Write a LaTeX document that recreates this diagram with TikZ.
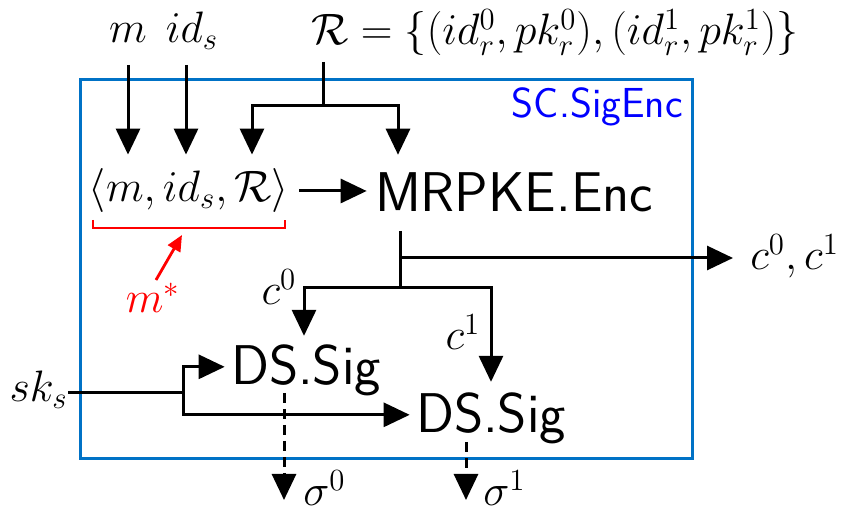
\documentclass[tikz,border=0pt]{standalone}
\usepackage{fix-cm}
\usetikzlibrary{arrows.meta}
\definecolor{boxblue}{RGB}{0,114,198}
\begin{document}
\begin{tikzpicture}[x=0.5pt,y=-0.5pt,
  mathtxt/.style={font=\fontsize{22}{26}\selectfont, inner sep=0pt},
  sanstxt/.style={font=\sffamily\fontsize{28}{32}\selectfont},
  ln/.style={line width=1.5pt},
  arr/.style={ln, -{Triangle[length=13pt,width=12pt]}},
  dsh/.style={arr, dash pattern=on 5pt off 3pt},
  redarr/.style={red, line width=1.4pt, -{Triangle[length=8pt,width=7pt]}},
]
\useasboundingbox (0,0) rectangle (843,512);
\draw[boxblue, line width=1.5pt] (80,80) rectangle (692,459);
\node[blue, font=\sffamily\fontsize{21}{25}\selectfont, anchor=base east, inner sep=0pt] (title) at (683,118) {SC.SigEnc};

\node[mathtxt, anchor=base] (m) at (128,43) {$m$};
\node[mathtxt, anchor=base] (ids) at (192,43) {$id_s$};
\node[mathtxt, anchor=base] (R) at (555,45) {$\mathcal{R}=\{(id_r^0,pk_r^0),(id_r^1,pk_r^1)\}$};
\node[mathtxt, anchor=base, inner xsep=5pt, inner ysep=7pt] (tup) at (189,202) {$\langle m, id_s, \mathcal{R}\rangle$};
\node[sanstxt, anchor=base, inner xsep=4pt, inner ysep=9pt] (enc) at (514,212) {MRPKE.Enc};
\node[sanstxt, anchor=base, inner xsep=3pt, inner ysep=4.5pt] (ds1) at (306,385) {DS.Sig};
\node[sanstxt, anchor=base, inner xsep=3pt, inner ysep=5.5pt] (ds2) at (491,433) {DS.Sig};
\node[mathtxt, anchor=base west] (out) at (750,270) {$c^0, c^1$};
\node[mathtxt, anchor=base] (c0) at (279,305) {$c^0$};
\node[mathtxt, anchor=base] (c1) at (463,350) {$c^1$};
\node[mathtxt, anchor=base east] (sk) at (68,402) {$sk_s$};
\node[mathtxt, anchor=base west] (sig0) at (303,506) {$\sigma^0$};
\node[mathtxt, anchor=base west] (sig1) at (483,506) {$\sigma^1$};
\node[mathtxt, red, anchor=base] (mstar) at (153,313) {$m^*$};

% inputs
\draw[arr] ([yshift=-11pt]m.base) -- (m.base |- tup.north);
\draw[arr] ([shift={(-6,22)}]ids.base) -- ([xshift=-3pt]ids.base |- tup.north);
\coordinate (Rc) at ([shift={(-232,17)}]R.base);
\coordinate (Rj) at ([shift={(-232,61)}]R.base);
\draw[ln] (Rc) -- (Rj);
\draw[arr] (Rj) -| ([xshift=31.5pt]tup.north);
\draw[arr] (Rj) -| ([xshift=-58pt]enc.north);
\draw[arr] (tup.east) -- (tup.east -| enc.west);

% m* bracket
\draw[red, line width=1.4pt] ([shift={(-96,18)}]tup.base) |- ([shift={(0,26)}]tup.base) -| ([shift={(96,18)}]tup.base);
\draw[redarr] ([shift={(3,-33)}]mstar.base) -- ([shift={(-7,33)}]tup.base);

% encryption outputs
\coordinate (s1) at ([shift={(-114,46)}]enc.base);
\coordinate (s2) at ([shift={(-114,76)}]enc.base);
\draw[ln] (enc.south -| s1) -- (s2);
\draw[arr] (s1) -- ([xshift=-8.5pt]out.west |- s1);
\draw[arr] (s2) -| ([xshift=-1pt]ds1.north);
\draw[arr] (s2) -| (ds2.north);

% signing key
\coordinate (j) at ([shift={(115,-9)}]sk.base east);
\draw[ln] ([shift={(0,-9)}]sk.base east) -- (j);
\draw[arr] (j) |- ([yshift=2pt]ds1.west);
\draw[arr] (j) |- ([yshift=2pt]ds2.west);

% signatures
\draw[dsh] ([shift={(-22,8)}]ds1.base) -- ([shift={(-19,-6)}]sig0.base west);
\draw[dsh] ([shift={(-25,9)}]ds2.base) -- ([shift={(-17,-6)}]sig1.base west);
\end{tikzpicture}
\end{document}
